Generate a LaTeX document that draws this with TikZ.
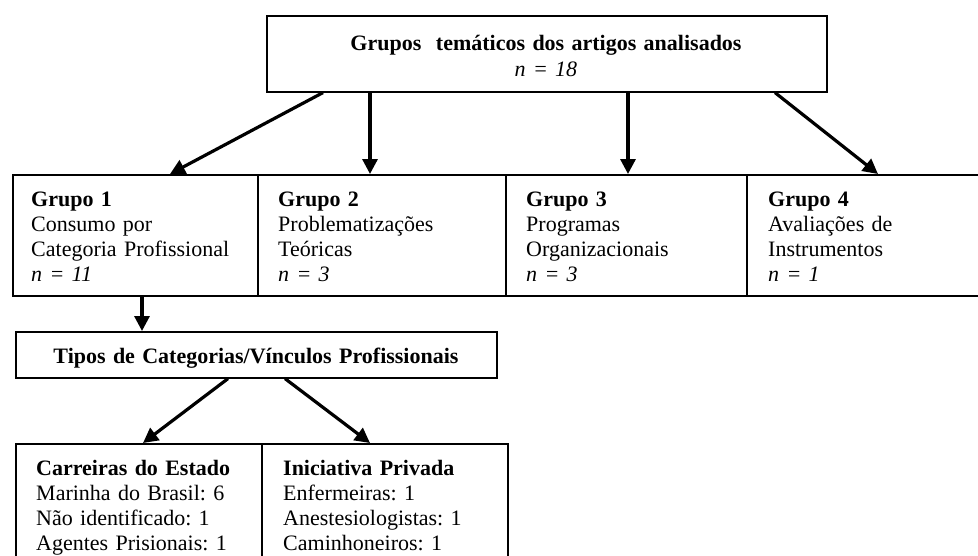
\documentclass[tikz,border=0pt]{standalone}
\usepackage{fontspec}
\setmainfont{Liberation Serif}
\usetikzlibrary{arrows.meta}
\begin{document}
\frenchspacing
\begin{tikzpicture}[x=1pt,y=-1pt,
  box/.style={draw, line width=1.6pt, inner sep=0pt, anchor=north west},
  arr/.style={line width=3.2pt, -{Triangle[length=15pt,width=15pt]}},
  txt/.style={inner sep=0pt, font=\fontsize{22}{25}\selectfont\frenchspacing, align=left, text width=225pt, anchor=base west},
  ctxt/.style={inner sep=0pt, font=\fontsize{22}{25}\selectfont\frenchspacing, align=center, text width=540pt, anchor=base}]
\useasboundingbox (0,0) rectangle (978,555);
\clip (0,0) rectangle (978,555);
\fill[white] (0,0) rectangle (978,555);
% boxes
\node[box, minimum width=560pt, minimum height=76pt] (top) at (266,15) {};
\node[box, minimum width=245pt, minimum height=121pt] (g1) at (12,174) {};
\node[box, minimum width=248pt, minimum height=121pt] (g2) at (257,174) {};
\node[box, minimum width=241pt, minimum height=121pt] (g3) at (505,174) {};
\node[box, minimum width=260pt, minimum height=121pt] (g4) at (746,174) {};
\node[box, minimum width=481pt, minimum height=46pt] (tipos) at (15,331) {};
\node[box, minimum width=246pt, minimum height=140pt] (ce) at (15,443) {};
\node[box, minimum width=246pt, minimum height=140pt] (ip) at (261,443) {};
% texts
\node[ctxt] (ttop) at (546,50) {\textbf{Grupos\ \ temáticos dos artigos analisados}\\[1.5pt]\textit{n = 18}};
\node[txt] (t1) at (31,206) {\textbf{Grupo 1}\\Consumo por\\Categoria Profissional\\\textit{n = 11}};
\node[txt] (t2) at (278,206) {\textbf{Grupo 2}\\Problematizações\\Teóricas\\\textit{n = 3}};
\node[txt] (t3) at (526,206) {\textbf{Grupo 3}\\Programas\\Organizacionais\\\textit{n = 3}};
\node[txt] (t4) at (768,206) {\textbf{Grupo 4}\\Avaliações de\\Instrumentos\\\textit{n = 1}};
\node[ctxt] (ttipos) at (256,363) {\textbf{Tipos de Categorias/Vínculos Profissionais}};
\node[txt] (tce) at (36,475) {\textbf{Carreiras do Estado}\\Marinha do Brasil: 6\\Não identificado: 1\\Agentes Prisionais: 1};
\node[txt] (tip) at (283,475) {\textbf{Iniciativa Privada}\\Enfermeiras: 1\\Anestesiologistas: 1\\Caminhoneiros: 1};
% connectors
\draw[arr] ([xshift=57pt]top.south west) -- ([xshift=158pt]g1.north west);
\draw[arr] ([xshift=104pt]top.south west) -- ([xshift=113pt]g2.north west);
\draw[arr] ([xshift=362pt]top.south west) -- ([xshift=123pt]g3.north west);
\draw[arr] ([xshift=509pt]top.south west) -- ([xshift=132pt]g4.north west);
\draw[arr] ([xshift=130pt]g1.south west) -- ([xshift=127pt]tipos.north west);
\draw[arr] ([xshift=213pt]tipos.south west) -- ([xshift=128pt]ce.north west);
\draw[arr] ([xshift=270pt]tipos.south west) -- ([xshift=109pt]ip.north west);
\end{tikzpicture}
\end{document}
